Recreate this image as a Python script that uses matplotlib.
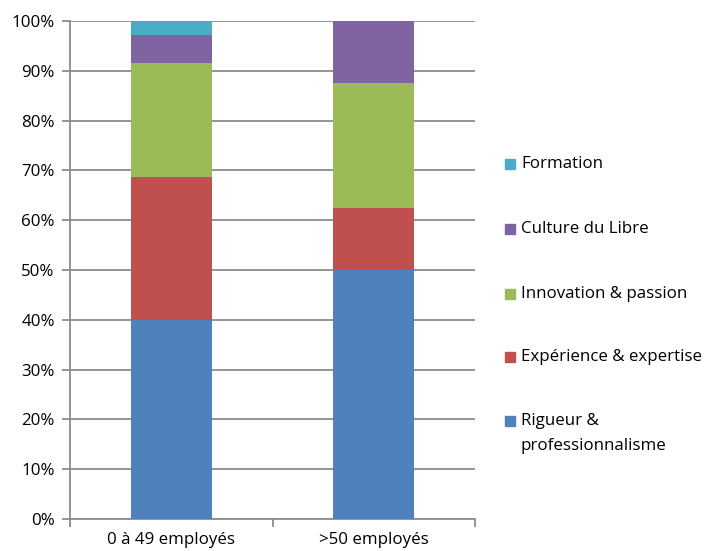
import matplotlib
matplotlib.use("Agg")
import matplotlib.pyplot as plt
from matplotlib.patches import Rectangle
from matplotlib.ticker import PercentFormatter

plt.rcParams['font.family'] = ['Open Sans', 'DejaVu Sans']

categories = ["0 à 49 employés", ">50 employés"]
series_names = ["Rigueur &", "Expérience & expertise",
                "Innovation & passion", "Culture du Libre", "Formation"]
series_names_line2 = ["professionnalisme", "", "", "", ""]
rigueur = [40.0, 50.0]
experience = [28.6, 12.5]
innovation = [22.9, 25.0]
culture = [5.7, 12.5]
formation = [2.8, 0.0]
colors = ["#4F81BD", "#C0504D", "#9BBB59", "#8064A2", "#4BACC6"]

FS = 12.2
W, H = 704, 551
fig = plt.figure(figsize=(W / 100, H / 100), dpi=100)
ax = fig.add_axes([70 / W, 1 - 519 / H, 405 / W, 498 / H])

data = [rigueur, experience, innovation, culture, formation]
x = list(range(len(categories)))
bottom = [0.0] * len(categories)
for vals, c in zip(data, colors):
    ax.bar(x, vals, bottom=bottom, width=0.4, color=c, zorder=3)
    bottom = [b + v for b, v in zip(bottom, vals)]

grid_c = "#8C8C8C"
ax.set_xlim(-0.5, 1.5)
ax.set_ylim(0, 100)
ax.set_yticks(range(0, 101, 10))
ax.yaxis.set_major_formatter(PercentFormatter(decimals=0))
ax.yaxis.grid(True, color=grid_c, linewidth=1.3, zorder=0)
for s in ["top", "right"]:
    ax.spines[s].set_visible(False)
for s in ["left", "bottom"]:
    ax.spines[s].set_color(grid_c)
    ax.spines[s].set_linewidth(1.3)

ax.set_xticks([-0.5, 0.5, 1.5])
ax.set_xticklabels([])
ax.set_xticks(x, minor=True)
ax.set_xticklabels(categories, minor=True)
ax.tick_params(axis='x', which='major', length=6, color=grid_c, width=1.3)
ax.tick_params(axis='x', which='minor', length=0, labelsize=FS, pad=9)
ax.tick_params(axis='y', length=6, color=grid_c, width=1.3, labelsize=FS, pad=5)

# legend (reverse order), placed like the reference
leg_y = [421, 357, 294, 229, 164]
for name, name2, c, yy in zip(series_names, series_names_line2, colors, leg_y):
    fig.patches.append(Rectangle((505 / W, 1 - (yy + 5) / H), 10 / W, 10 / H,
                                 transform=fig.transFigure, color=c))
    fig.text(521 / W, 1 - yy / H, name, fontsize=FS, va='center', ha='left')
    if name2:
        fig.text(521 / W, 1 - (yy + 25) / H, name2, fontsize=FS, va='center', ha='left')

fig.savefig("out.png", dpi=100)
